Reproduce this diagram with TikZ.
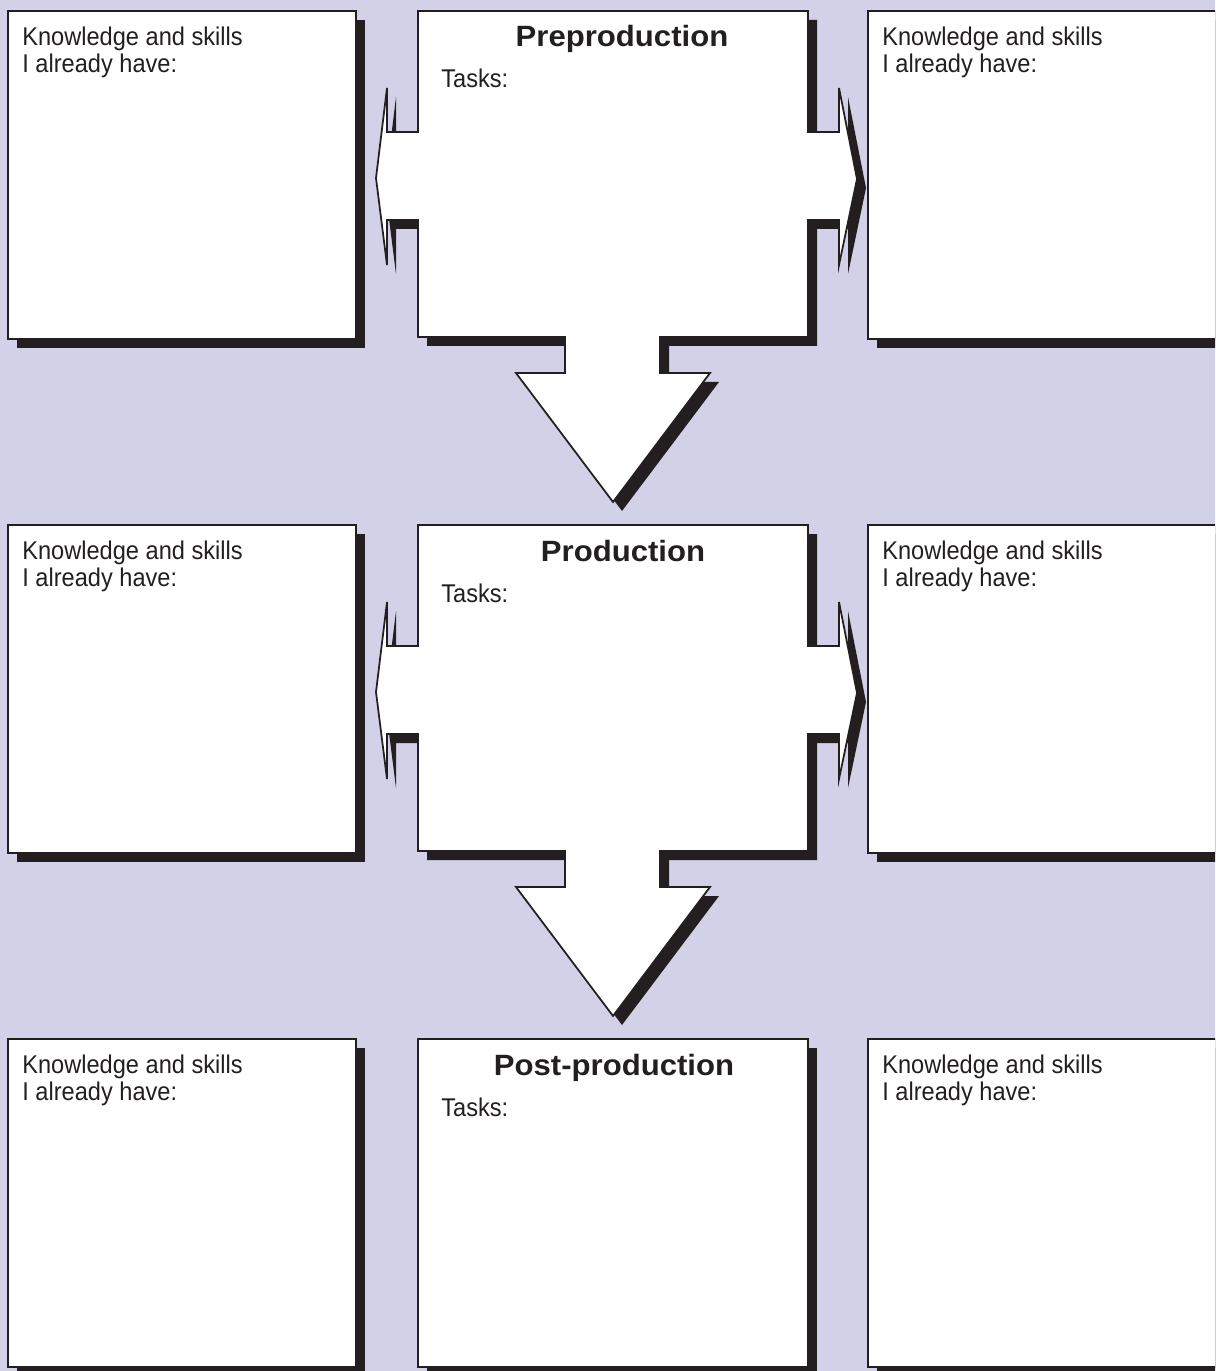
\documentclass[tikz,border=0pt]{standalone}
\usepackage{fontspec}
\setmainfont{Liberation Sans}
\newfontfamily\labelfont{Liberation Sans}[FakeStretch=0.92]
\newfontfamily\headfont{Liberation Sans}[FakeStretch=1.06]
\usepackage{tikz}
\definecolor{sheet}{RGB}{211,209,231}
\definecolor{ink}{RGB}{35,31,32}
% outline of a stage box with its two side arrows and the arrow below
\newcommand{\stagepath}{(418,0) -- (808,0) -- (808,121) -- (839,121) -- (839,77)
  -- (857,168) -- (839,254) -- (839,209) -- (808,209) -- (808,326) -- (660,326)
  -- (660,362) -- (710,362) -- (613,491) -- (516,362) -- (565,362) -- (565,326)
  -- (418,326) -- (418,209) -- (387,209) -- (387,254) -- (376,167) -- (387,77)
  -- (387,121) -- (418,121) -- cycle}
\newcommand{\stagebox}[1]{%
  \fill[ink,shift={(9,#1+9)}] \stagepath;
  \draw[boxline,shift={(0,#1)}] \stagepath;
}
\newcommand{\knowbox}[3]{%
  \fill[ink] (#2+9,#3+9) rectangle ++(348,328);
  \draw[boxline] (#2,#3) rectangle ++(348,328);
  \node[know] (#1) at (#2+14,#3+15.5) {Knowledge and skills\\I already have:};
}

\begin{document}
\begin{tikzpicture}[x=0.02cm,y=-0.02cm,
  boxline/.style={draw=ink,line width=1pt,fill=white},
  know/.style={anchor=north west,inner sep=0pt,align=left,text=ink,
    font=\labelfont\fontsize{14.6}{15.3}\selectfont},
  head/.style={anchor=base,inner sep=0pt,text=ink,
    font=\headfont\bfseries\fontsize{16.7}{18}\selectfont},
  task/.style={anchor=base west,inner sep=0pt,text=ink,
    font=\labelfont\fontsize{14.6}{15.3}\selectfont}]
  \clip (0,0) rectangle (1215,1371);
  \fill[sheet] (0,0) rectangle (1215,1371);
  \foreach \row/\rowy in {a/11,b/525,c/1039} {
    \knowbox{left\row}{8}{\rowy}
    \knowbox{right\row}{868}{\rowy}
  }
  \stagebox{11}
  \stagebox{525}
  \fill[ink] (427,1048) rectangle ++(390,328);
  \draw[boxline] (418,1039) rectangle ++(390,328);
  \foreach \name/\rowy/\cx/\stage in {pre/11/622/Preproduction,
    prod/525/623/Production,post/1039/614/Post-production} {
    \node[head] (\name) at (\cx,\rowy+36) {\stage};
    \node[task] (\name tasks) at (441,\rowy+77) {Tasks:};
  }
\end{tikzpicture}
\end{document}
